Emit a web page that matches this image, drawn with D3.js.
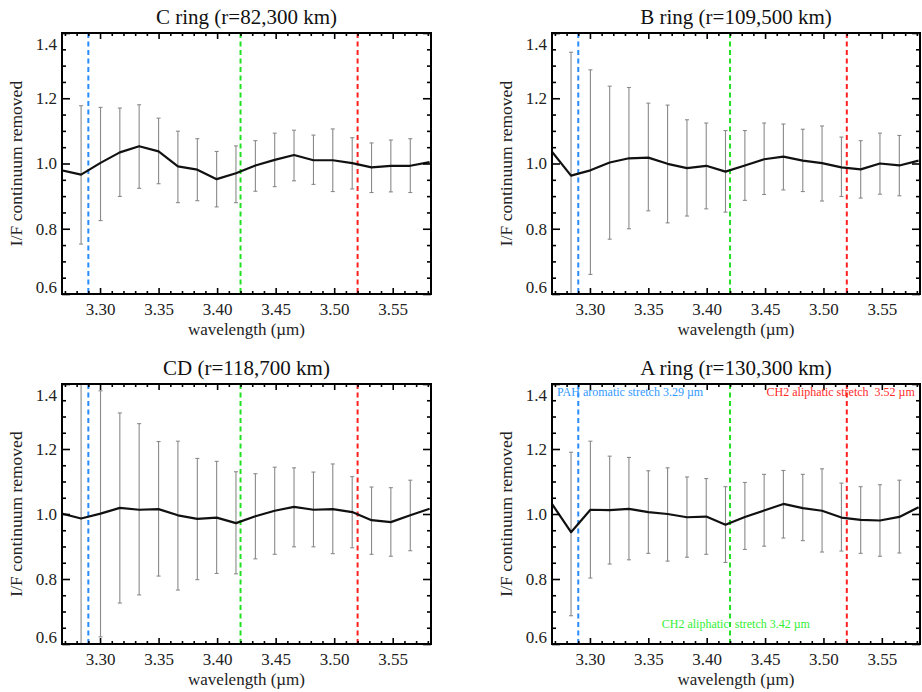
<!DOCTYPE html>
<html>
<head>
<meta charset="utf-8">
<script src="https://cdn.jsdelivr.net/npm/d3@7"></script>
<style>
  html, body { margin: 0; padding: 0; background: #fff; }
  svg { display: block; font-family: "Liberation Serif", "DejaVu Serif", serif; }
  svg text { font-family: "Liberation Serif", "DejaVu Serif", serif; }
</style>
</head>
<body>
<svg id="chart" width="922" height="692"></svg>
<script>
// ---------------- DATA ----------------
const wavelengths = [3.2673, 3.2838, 3.3004, 3.3169, 3.3334, 3.3500, 3.3665, 3.3831, 3.3996, 3.4161,
                     3.4327, 3.4492, 3.4657, 3.4823, 3.4988, 3.5154, 3.5319, 3.5484, 3.5650, 3.5815];

const cRingValues = [0.979, 0.966, 1.002, 1.034, 1.053, 1.037, 0.991, 0.981, 0.952, 0.970,
                     0.994, 1.011, 1.026, 1.010, 1.010, 1.001, 0.988, 0.993, 0.993, 1.004];
const cRingUpper  = [null, 1.177, 1.172, 1.170, 1.180, 1.139, 1.099, 1.076, 1.037, 1.054,
                     1.070, 1.093, 1.102, 1.087, 1.106, 1.079, 1.063, 1.072, 1.076, null];
const cRingLower  = [null, 0.753, 0.825, 0.899, 0.924, 0.938, 0.880, 0.886, 0.867, 0.880,
                     0.915, 0.929, 0.947, 0.936, 0.914, 0.922, 0.911, 0.913, 0.911, null];

const bRingValues = [1.037, 0.963, 0.979, 1.003, 1.016, 1.018, 0.999, 0.986, 0.993, 0.975,
                     0.994, 1.013, 1.021, 1.009, 1.001, 0.988, 0.982, 1.000, 0.994, 1.009];
const bRingUpper  = [null, 1.341, 1.287, 1.237, 1.233, 1.185, 1.179, 1.134, 1.124, 1.101,
                     1.101, 1.124, 1.121, 1.105, 1.115, 1.081, 1.070, 1.093, 1.086, null];
const bRingLower  = [null, 0.585, 0.660, 0.768, 0.800, 0.855, 0.818, 0.839, 0.861, 0.851,
                     0.887, 0.905, 0.919, 0.914, 0.885, 0.899, 0.894, 0.906, 0.901, null];

const cdValues    = [1.001, 0.986, 1.001, 1.019, 1.013, 1.015, 0.996, 0.985, 0.989, 0.972,
                     0.993, 1.010, 1.022, 1.013, 1.015, 1.006, 0.981, 0.975, 0.996, 1.016];
const cdUpper     = [null, 1.440, 1.379, 1.311, 1.278, 1.223, 1.224, 1.171, 1.162, 1.130,
                     1.124, 1.144, 1.142, 1.129, 1.154, 1.115, 1.083, 1.081, 1.104, null];
const cdLower     = [null, 0.550, 0.622, 0.726, 0.751, 0.809, 0.766, 0.798, 0.817, 0.816,
                     0.862, 0.876, 0.899, 0.899, 0.878, 0.896, 0.876, 0.870, 0.887, null];

const aRingValues = [1.032, 0.944, 1.013, 1.012, 1.016, 1.006, 1.000, 0.990, 0.992, 0.967,
                     0.991, 1.011, 1.031, 1.018, 1.010, 0.989, 0.982, 0.980, 0.991, 1.021];
const aRingUpper  = [null, 1.190, 1.224, 1.178, 1.174, 1.133, 1.142, 1.114, 1.109, 1.084,
                     1.097, 1.122, 1.134, 1.122, 1.139, 1.095, 1.084, 1.090, 1.104, null];
const aRingLower  = [null, 0.687, 0.803, 0.846, 0.859, 0.879, 0.855, 0.867, 0.876, 0.851,
                     0.891, 0.901, 0.926, 0.918, 0.883, 0.886, 0.879, 0.870, 0.880, null];

const panelTitles = ["C ring (r=82,300 km)", "B ring (r=109,500 km)", "CD (r=118,700 km)", "A ring (r=130,300 km)"];

const xTickLabels = [3.30, 3.35, 3.40, 3.45, 3.50, 3.55];
const yTickLabels = [0.6, 0.8, 1.0, 1.2, 1.4];
const xDomain = [3.2675, 3.5827];
const yDomain = [0.6, 1.4];

const bandWavelengths = [3.29, 3.42, 3.52];
const bandColors = ["#2a8cff", "#22e022", "#ff2020"];

// annotations (A ring panel)
const annotTexts = ["PAH aromatic stretch 3.29 \u00b5m", "CH2 aliphatic  stretch 3.42 \u00b5m", "CH2 aliphatic stretch  3.52 \u00b5m"];
const annotX = [3.2718, 3.3615, 3.4513];
const annotY = [1.363, 0.650, 1.363];
const annotColors = ["#3399ff", "#33ee33", "#ff2a2a"];

const xLabel = "wavelength (\u00b5m)";
const yLabel = "I/F continuum removed";

// ---------------- LAYOUT ----------------
const panels = [
  {title: panelTitles[0], values: cRingValues, upper: cRingUpper, lower: cRingLower, left: 62,  right: 431, top: 33,  bottom: 294, annot: false},
  {title: panelTitles[1], values: bRingValues, upper: bRingUpper, lower: bRingLower, left: 552, right: 920, top: 33,  bottom: 294, annot: false},
  {title: panelTitles[2], values: cdValues,    upper: cdUpper,    lower: cdLower,    left: 62,  right: 431, top: 384, bottom: 644, annot: false},
  {title: panelTitles[3], values: aRingValues, upper: aRingUpper, lower: aRingLower, left: 552, right: 920, top: 384, bottom: 644, annot: true}
];

const svg = d3.select("#chart");
const xMinor = d3.range(3.27, 3.585, 0.01).map(v => +v.toFixed(2));
const yMinor = d3.range(0.6, 1.401, 0.05).map(v => +v.toFixed(2));
const serif = "Liberation Serif, DejaVu Serif, serif";

panels.forEach((p, pi) => {
  const x = d3.scaleLinear().domain(xDomain).range([p.left, p.right]);
  const y = d3.scaleLinear().domain(yDomain).range([p.bottom, p.top]);
  const g = svg.append("g");
  const clipId = "clip" + pi;
  svg.append("clipPath").attr("id", clipId).append("rect")
    .attr("x", p.left).attr("y", p.top).attr("width", p.right - p.left).attr("height", p.bottom - p.top);

  const plot = g.append("g").attr("clip-path", `url(#${clipId})`);

  // band lines
  plot.selectAll("line.band").data(bandWavelengths).enter().append("line")
    .attr("class", "band")
    .attr("x1", d => x(d)).attr("x2", d => x(d))
    .attr("y1", p.top).attr("y2", p.bottom)
    .attr("stroke", (d, i) => bandColors[i])
    .attr("stroke-width", 2)
    .attr("stroke-dasharray", "5,3.5");

  // error bars
  const eb = wavelengths.map((w, i) => ({w, lo: p.lower[i], hi: p.upper[i]})).filter(d => d.lo !== null);
  const ebG = plot.append("g").attr("stroke", "#8a8a8a").attr("stroke-width", 1.1).attr("fill", "none");
  ebG.selectAll("line.v").data(eb).enter().append("line")
    .attr("x1", d => x(d.w)).attr("x2", d => x(d.w))
    .attr("y1", d => y(d.lo)).attr("y2", d => y(d.hi));
  ebG.selectAll("line.t").data(eb).enter().append("line")
    .attr("x1", d => x(d.w) - 2).attr("x2", d => x(d.w) + 2)
    .attr("y1", d => y(d.hi)).attr("y2", d => y(d.hi));
  ebG.selectAll("line.b").data(eb).enter().append("line")
    .attr("x1", d => x(d.w) - 2).attr("x2", d => x(d.w) + 2)
    .attr("y1", d => y(d.lo)).attr("y2", d => y(d.lo));

  // main line
  const line = d3.line().x((d, i) => x(wavelengths[i])).y(d => y(d));
  plot.append("path").datum(p.values)
    .attr("d", line).attr("fill", "none").attr("stroke", "#111").attr("stroke-width", 2.2)
    .attr("stroke-linejoin", "round");

  // axes: inward ticks on all sides
  const axStyle = sel => {
    sel.select(".domain").remove();
    sel.attr("font-family", serif);
    sel.selectAll(".tick line").attr("stroke", "#000").attr("stroke-width", 1.6);
  };

  const xMinorOnly = xMinor.filter(v => !xTickLabels.some(t => Math.abs(t - v) < 1e-6));
  const yMinorOnly = yMinor.filter(v => !yTickLabels.some(t => Math.abs(t - v) < 1e-6));

  const bottomMajor = g.append("g").attr("transform", `translate(0,${p.bottom})`)
    .call(d3.axisBottom(x).tickValues(xTickLabels).tickSizeInner(-6).tickSizeOuter(0).tickPadding(9).tickFormat(d3.format(".2f")));
  axStyle(bottomMajor);
  bottomMajor.selectAll("text").attr("font-size", 17).attr("fill", "#222");
  const bottomMinor = g.append("g").attr("transform", `translate(0,${p.bottom})`)
    .call(d3.axisBottom(x).tickValues(xMinorOnly).tickSizeInner(-3).tickSizeOuter(0).tickFormat(""));
  axStyle(bottomMinor);
  const topMajor = g.append("g").attr("transform", `translate(0,${p.top})`)
    .call(d3.axisTop(x).tickValues(xTickLabels).tickSizeInner(-6).tickSizeOuter(0).tickFormat(""));
  axStyle(topMajor);
  const topMinor = g.append("g").attr("transform", `translate(0,${p.top})`)
    .call(d3.axisTop(x).tickValues(xMinorOnly).tickSizeInner(-3).tickSizeOuter(0).tickFormat(""));
  axStyle(topMinor);

  const leftMajor = g.append("g").attr("transform", `translate(${p.left},0)`)
    .call(d3.axisLeft(y).tickValues(yTickLabels).tickSizeInner(-8).tickSizeOuter(0).tickPadding(5).tickFormat(d3.format(".1f")));
  axStyle(leftMajor);
  leftMajor.selectAll("text").attr("font-size", 17).attr("fill", "#222")
    .attr("dy", d => d === 1.4 ? "0.95em" : (d === 0.6 ? "-0.1em" : "0.32em"));
  const leftMinor = g.append("g").attr("transform", `translate(${p.left},0)`)
    .call(d3.axisLeft(y).tickValues(yMinorOnly).tickSizeInner(-4).tickSizeOuter(0).tickFormat(""));
  axStyle(leftMinor);
  const rightMajor = g.append("g").attr("transform", `translate(${p.right},0)`)
    .call(d3.axisRight(y).tickValues(yTickLabels).tickSizeInner(-8).tickSizeOuter(0).tickFormat(""));
  axStyle(rightMajor);
  const rightMinor = g.append("g").attr("transform", `translate(${p.right},0)`)
    .call(d3.axisRight(y).tickValues(yMinorOnly).tickSizeInner(-4).tickSizeOuter(0).tickFormat(""));
  axStyle(rightMinor);

  // frame
  g.append("rect").attr("x", p.left).attr("y", p.top)
    .attr("width", p.right - p.left).attr("height", p.bottom - p.top)
    .attr("fill", "none").attr("stroke", "#000").attr("stroke-width", 2);

  // title
  g.append("text").attr("x", (p.left + p.right) / 2).attr("y", p.top - 9)
    .attr("text-anchor", "middle").attr("font-size", 21).attr("fill", "#111").text(p.title);

  // axis labels
  g.append("text").attr("x", (p.left + p.right) / 2).attr("y", p.bottom + 41)
    .attr("text-anchor", "middle").attr("font-size", 17).attr("fill", "#222").text(xLabel);
  g.append("text").attr("transform", `translate(${p.left - 40},${(p.top + p.bottom) / 2}) rotate(-90)`)
    .attr("text-anchor", "middle").attr("font-size", 17.5).attr("fill", "#222").text(yLabel);

  if (p.annot) {
    g.selectAll("text.annot").data(annotTexts).enter().append("text")
      .attr("class", "annot")
      .attr("x", (d, i) => x(annotX[i])).attr("y", (d, i) => y(annotY[i]))
      .attr("font-size", 12).attr("fill", (d, i) => annotColors[i])
      .attr("xml:space", "preserve")
      .style("white-space", "pre")
      .text(d => d);
  }
});
</script>
</body>
</html>
